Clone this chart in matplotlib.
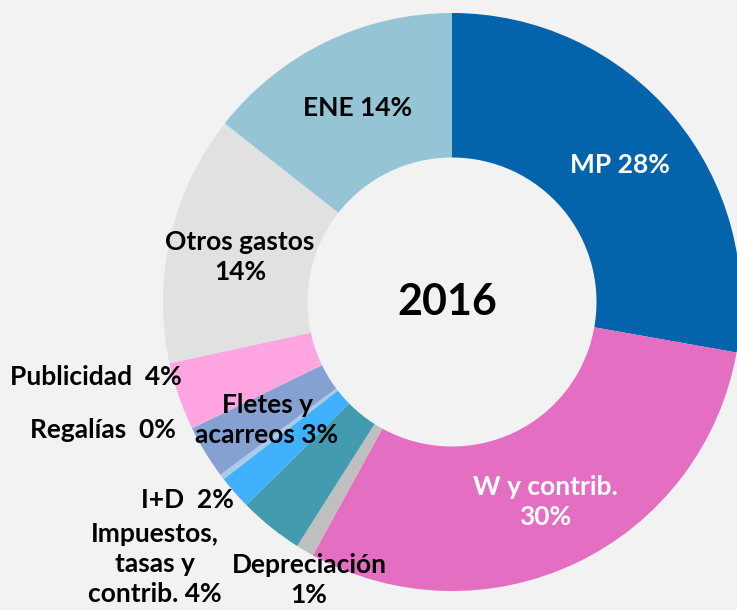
import matplotlib.pyplot as plt

plt.rcParams['font.family'] = ['Lato', 'DejaVu Sans']

# shares of cost, 2016 (clockwise from the top)
categorias = ['MP', 'W y contrib.', 'Depreciación', 'Impuestos, tasas y contrib.',
              'I+D', 'Regalías', 'Fletes y acarreos', 'Publicidad', 'Otros gastos', 'ENE']
valores = [27.8, 30.2, 1.0, 3.6, 1.9, 0.3, 3.0, 3.8, 14.0, 14.4]
colores = ['#0363ab', '#e36ec2', '#bfbfbf', '#429baf', '#40b1fd',
           '#a9cbe8', '#85a1d2', '#ffa6e2', '#e1e1e1', '#95c4d4']
etiquetas = ['MP 28%', 'W y contrib.\n30%', 'Depreciación\n1%', 'Impuestos,\ntasas y\ncontrib. 4%',
             'I+D  2%', 'Regalías  0%', 'Fletes y\nacarreos 3%', 'Publicidad  4%',
             'Otros gastos\n14%', 'ENE 14%']
anio = '2016'

W, H = 737, 610
cx, cy, R = 452, 302, 289

fig = plt.figure(figsize=(W / 100, H / 100), dpi=100)
fig.patch.set_facecolor('#f2f2f2')
ax = fig.add_axes([0, 0, 1, 1])
ax.set_facecolor('#f2f2f2')

ax.pie(valores, colors=colores, startangle=90, counterclock=False,
       radius=1, wedgeprops=dict(width=0.5, linewidth=0))

# axis limits in units of the outer radius so the ring sits where it should
ax.set_xlim(-cx / R, (W - cx) / R)
ax.set_ylim(-(H - cy) / R, cy / R)
ax.set_aspect('auto')
ax.axis('off')


def px(x, y):
    return (x - cx) / R, (cy - y) / R


# label positions in pixels of the reference
pos = {
    'MP 28%': (620, 165),
    'W y contrib.\n30%': (545, 502),
    'Depreciación\n1%': (309, 580),
    'Impuestos,\ntasas y\ncontrib. 4%': (155, 564),
    'I+D  2%': (187, 500),
    'Regalías  0%': (103, 430),
    'Fletes y\nacarreos 3%': (267, 420),
    'Publicidad  4%': (96, 377),
    'Otros gastos\n14%': (240, 257),
    'ENE 14%': (358, 108),
}

for lab in etiquetas:
    x, y = pos[lab]
    color = 'white' if lab.startswith(('MP', 'W y')) else 'black'
    ax.text(*px(x, y), lab, ha='center', va='center', fontsize=19, fontweight='bold',
            color=color, linespacing=1.32, multialignment='center')

ax.text(*px(447, 302), anio, ha='center', va='center', fontsize=31, fontweight='bold')

fig.savefig('out.png', dpi=100, facecolor=fig.get_facecolor())
